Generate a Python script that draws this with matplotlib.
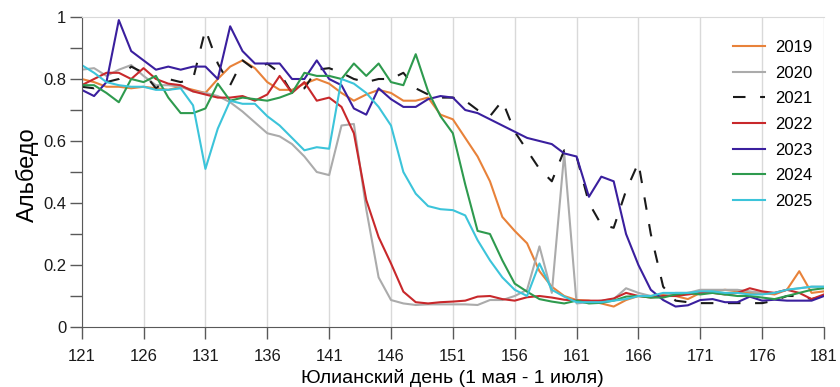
import matplotlib
matplotlib.use('Agg')
import matplotlib.pyplot as plt
from matplotlib.ticker import FuncFormatter

plt.rcParams['font.family'] = ['Liberation Sans', 'DejaVu Sans']

# Julian days (1 May - 1 July)
days = list(range(121, 182))

# albedo values
y2019 = [0.80, 0.79, 0.775, 0.775, 0.77, 0.775, 0.77, 0.765, 0.775, 0.765,
         0.755, 0.80, 0.84, 0.86, 0.835, 0.79, 0.765, 0.765, 0.785, 0.80,
         0.785, 0.755, 0.73, 0.75, 0.765, 0.755, 0.73, 0.73, 0.74, 0.685,
         0.67, 0.61, 0.55, 0.47, 0.355, 0.31, 0.27, 0.18, 0.13, 0.10,
         0.087, 0.085, 0.076, 0.066, 0.087, 0.10, 0.10, 0.105, 0.10, 0.09,
         0.11, 0.115, 0.12, 0.115, 0.11, 0.11, 0.105, 0.12, 0.18, 0.11, 0.115]
y2020 = [0.83, 0.835, 0.81, 0.83, 0.845, 0.81, 0.78, 0.78, 0.775, 0.76,
         0.755, 0.745, 0.725, 0.695, 0.66, 0.625, 0.615, 0.59, 0.55, 0.50,
         0.49, 0.65, 0.655, 0.38, 0.16, 0.087, 0.076, 0.071, 0.073, 0.073,
         0.073, 0.073, 0.071, 0.087, 0.087, 0.10, 0.12, 0.26, 0.11, 0.56,
         0.076, 0.08, 0.085, 0.09, 0.125, 0.11, 0.10, 0.10, 0.11, 0.11,
         0.12, 0.12, 0.12, 0.12, 0.115, 0.11, 0.11, 0.12, 0.125, 0.13, 0.13]
y2021 = [0.775, 0.77, 0.79, 0.80, 0.84, 0.82, 0.77, 0.80, 0.79, 0.80,
         0.96, 0.85, 0.78, 0.86, 0.83, 0.85, 0.82, 0.755, 0.77, 0.83,
         0.835, 0.82, 0.80, 0.79, 0.80, 0.80, 0.82, 0.77, 0.75, 0.74,
         0.74, 0.73, 0.70, 0.68, 0.73, 0.63, 0.57, 0.51, 0.47, 0.57,
         0.55, 0.40, 0.33, 0.32, 0.44, 0.53, 0.30, 0.13, 0.085, 0.08,
         0.077, 0.077, 0.077, 0.077, 0.077, 0.077, 0.085, 0.10, 0.10, 0.09, 0.10]
y2022 = [0.78, 0.80, 0.82, 0.82, 0.80, 0.835, 0.80, 0.785, 0.78, 0.76,
         0.75, 0.74, 0.74, 0.745, 0.73, 0.75, 0.81, 0.755, 0.79, 0.73,
         0.74, 0.71, 0.625, 0.41, 0.29, 0.205, 0.114, 0.08, 0.076, 0.08,
         0.082, 0.085, 0.098, 0.10, 0.09, 0.085, 0.096, 0.10, 0.095, 0.088,
         0.085, 0.085, 0.085, 0.092, 0.11, 0.10, 0.095, 0.10, 0.10, 0.105,
         0.11, 0.11, 0.105, 0.11, 0.125, 0.115, 0.11, 0.12, 0.11, 0.09, 0.105]
y2023 = [0.765, 0.745, 0.79, 0.99, 0.89, 0.86, 0.83, 0.84, 0.83, 0.84,
         0.84, 0.80, 0.97, 0.89, 0.85, 0.85, 0.85, 0.80, 0.80, 0.86,
         0.80, 0.78, 0.705, 0.685, 0.77, 0.735, 0.71, 0.71, 0.735, 0.745,
         0.74, 0.70, 0.69, 0.67, 0.65, 0.63, 0.61, 0.60, 0.59, 0.56,
         0.55, 0.42, 0.485, 0.47, 0.30, 0.20, 0.12, 0.087, 0.066, 0.07,
         0.087, 0.09, 0.08, 0.08, 0.098, 0.085, 0.088, 0.085, 0.085, 0.085, 0.10]
y2024 = [0.78, 0.78, 0.755, 0.725, 0.80, 0.79, 0.81, 0.74, 0.69, 0.69,
         0.705, 0.785, 0.73, 0.74, 0.735, 0.73, 0.74, 0.755, 0.82, 0.81,
         0.81, 0.80, 0.85, 0.81, 0.85, 0.79, 0.78, 0.88, 0.76, 0.68,
         0.625, 0.46, 0.31, 0.30, 0.215, 0.14, 0.114, 0.09, 0.082, 0.076,
         0.085, 0.076, 0.078, 0.085, 0.098, 0.10, 0.095, 0.095, 0.105, 0.11,
         0.105, 0.11, 0.105, 0.10, 0.10, 0.095, 0.09, 0.10, 0.11, 0.12, 0.125]
y2025 = [0.845, 0.82, 0.79, 0.78, 0.775, 0.775, 0.765, 0.765, 0.77, 0.715,
         0.51, 0.64, 0.73, 0.72, 0.72, 0.68, 0.65, 0.61, 0.57, 0.58,
         0.575, 0.80, 0.785, 0.755, 0.71, 0.65, 0.50, 0.43, 0.39, 0.38,
         0.377, 0.36, 0.28, 0.215, 0.16, 0.12, 0.10, 0.205, 0.12, 0.098,
         0.08, 0.08, 0.08, 0.085, 0.09, 0.10, 0.10, 0.11, 0.11, 0.11,
         0.115, 0.115, 0.11, 0.11, 0.105, 0.105, 0.11, 0.12, 0.125, 0.13, 0.13]

series = [
    ('2019', y2019, '#E8823A', '-'),
    ('2020', y2020, '#ABABAB', '-'),
    ('2021', y2021, '#1A1A1A', (0, (6, 7))),
    ('2022', y2022, '#C8282B', '-'),
    ('2023', y2023, '#3A1F9E', '-'),
    ('2024', y2024, '#2E9A4E', '-'),
    ('2025', y2025, '#3CC4DA', '-'),
]

fig = plt.figure(figsize=(8.4, 3.87), dpi=100)
ax = fig.add_axes([81.7 / 840, 1 - 327 / 387, (824 - 81.7) / 840, 310 / 387])

for label, vals, color, ls in series:
    ax.plot(days, vals, color=color, linestyle=ls, lw=1.5, label=label)

ax.set_xlim(121, 181)
ax.set_ylim(0, 1)
ax.set_xticks(range(121, 182, 5))
ax.set_yticks([i / 10 for i in range(11)])
ax.yaxis.set_major_formatter(FuncFormatter(
    lambda v, p: ('%g' % round(v, 1)) if round(v * 10) % 2 == 0 else ''))
ax.grid(axis='x', color='#D9D9D9', lw=1)
ax.tick_params(axis='both', length=8.5, width=1, color='#595959',
               labelsize=12, labelcolor='#1A1A1A')
ax.tick_params(axis='x', pad=7)
ax.tick_params(axis='y', pad=2.5)

for s in ['left', 'bottom']:
    ax.spines[s].set_color('#595959')
ax.spines['top'].set_color('#D9D9D9')
ax.spines['right'].set_visible(False)

ax.set_xlabel('Юлианский день (1 мая - 1 июля)', fontsize=14, labelpad=4)
ax.set_ylabel('Альбедо', fontsize=17)
ax.yaxis.set_label_coords(-0.057, 0.49)

ax.legend(loc='upper left', bbox_to_anchor=(733 / 840, 1 - 40 / 387),
          bbox_transform=fig.transFigure, frameon=False, fontsize=12,
          handlelength=1.9, handletextpad=0.6, labelspacing=0.64,
          borderpad=0, borderaxespad=0)

fig.savefig('out.png', dpi=100)
